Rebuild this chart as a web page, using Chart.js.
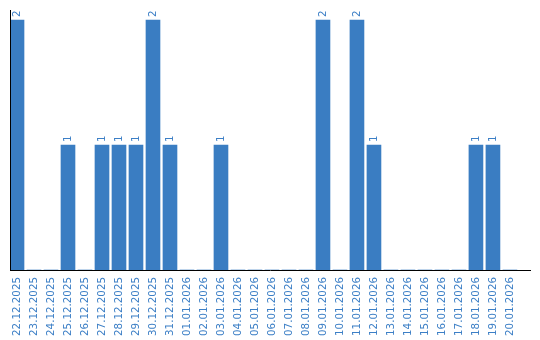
<!DOCTYPE html>
<html>
<head>
<meta charset="utf-8">
<script src="https://cdn.jsdelivr.net/npm/chart.js@4.4.1/dist/chart.umd.min.js"></script>
<style>
  html, body { margin: 0; padding: 0; background: #fff; }
  #wrap { width: 540px; height: 340px; }
</style>
</head>
<body>
<div id="wrap"><canvas id="chart"></canvas></div>
<script>
const dates = [
    '22.12.2025', '23.12.2025', '24.12.2025', '25.12.2025', '26.12.2025',
    '27.12.2025', '28.12.2025', '29.12.2025', '30.12.2025', '31.12.2025',
    '01.01.2026', '02.01.2026', '03.01.2026', '04.01.2026', '05.01.2026',
    '06.01.2026', '07.01.2026', '08.01.2026', '09.01.2026', '10.01.2026',
    '11.01.2026', '12.01.2026', '13.01.2026', '14.01.2026', '15.01.2026',
    '16.01.2026', '17.01.2026', '18.01.2026', '19.01.2026', '20.01.2026'
];
const counts = [
    2, 0, 0, 1, 0,
    1, 1, 1, 2, 1,
    0, 0, 1, 0, 0,
    0, 0, 0, 2, 0,
    2, 1, 0, 0, 0,
    0, 0, 1, 1, 0
];

const blue = '#3a7dc2';
const textBlue = '#3c7fc6';
const fontSize = 10.3;

// value labels drawn sideways above each bar
const valueLabels = {
    id: 'valueLabels',
    afterDatasetsDraw(chart) {
        const ctx = chart.ctx;
        const meta = chart.getDatasetMeta(0);
        ctx.save();
        ctx.font = fontSize + 'px "DejaVu Sans"';
        ctx.fillStyle = textBlue;
        ctx.textAlign = 'left';
        ctx.textBaseline = 'middle';
        meta.data.forEach((bar, i) => {
            if (!counts[i]) return;
            ctx.save();
            ctx.translate(bar.x, bar.y - 3);
            ctx.rotate(-Math.PI / 2);
            ctx.fillText(String(counts[i]), 0, 0);
            ctx.restore();
        });
        ctx.restore();
    }
};

// left axis line
const leftAxis = {
    id: 'leftAxis',
    afterDraw(chart) {
        const { ctx, chartArea } = chart;
        ctx.save();
        ctx.strokeStyle = '#000';
        ctx.lineWidth = 1;
        ctx.beginPath();
        ctx.moveTo(chartArea.left + 0.5, chartArea.top);
        ctx.lineTo(chartArea.left + 0.5, chartArea.bottom);
        ctx.stroke();
        ctx.restore();
    }
};

new Chart(document.getElementById('chart'), {
    type: 'bar',
    data: {
        datasets: [{
            data: counts.map((v, i) => ({ x: i, y: v })),
            backgroundColor: blue,
            barThickness: 14,
            borderWidth: 0
        }]
    },
    options: {
        responsive: true,
        maintainAspectRatio: false,
        animation: false,
        layout: { padding: { left: 10, right: 10, top: 10, bottom: 0 } },
        plugins: {
            legend: { display: false },
            tooltip: { enabled: false }
        },
        scales: {
            x: {
                type: 'linear',
                bounds: 'data',
                offset: false,
                min: -0.412,
                max: 30.18,
                grid: { display: false, drawTicks: false, tickLength: 0, offset: false },
                border: { display: true, color: '#000', width: 1 },
                afterBuildTicks: axis => {
                    axis.ticks = dates.map((d, i) => ({ value: i }));
                },
                afterFit: axis => {
                    axis.paddingLeft = 0;
                    axis.paddingRight = 0;
                    axis.height = 70;
                },
                ticks: {
                    autoSkip: false,
                    minRotation: 90,
                    maxRotation: 90,
                    padding: 7,
                    color: textBlue,
                    font: { family: 'DejaVu Sans', size: fontSize },
                    callback: value => dates[value]
                }
            },
            y: {
                display: false,
                min: 0,
                max: 2.08
            }
        }
    },
    plugins: [valueLabels, leftAxis]
});
</script>
</body>
</html>
